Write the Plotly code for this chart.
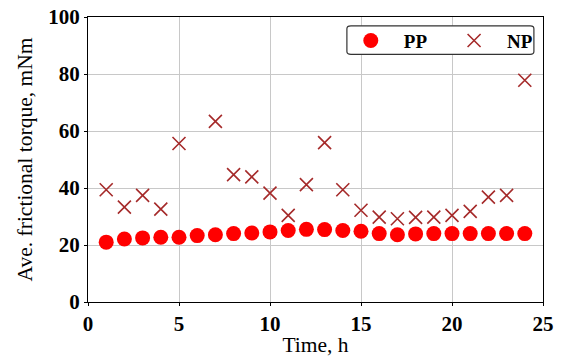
import plotly.graph_objects as go

hours = list(range(1, 25))
pp_values = [21.0, 22.1, 22.5, 22.7, 22.7, 23.3, 23.6, 24.0, 24.2, 24.6, 25.1, 25.5,
             25.4, 25.1, 24.8, 24.0, 23.6, 23.9, 24.0, 24.0, 24.0, 24.0, 24.0, 24.0]
np_hours = [1, 2, 3, 4, 5, 7, 8, 9, 10, 11, 12, 13, 14, 15, 16, 17, 18, 19, 20, 21, 22, 23, 24]
np_values = [39.4, 33.3, 37.4, 32.6, 55.6, 63.4, 44.7, 43.9, 38.2, 30.4, 41.2, 55.9,
             39.4, 32.2, 29.8, 29.2, 29.7, 29.8, 30.4, 31.8, 36.8, 37.4, 77.8]
x_ticks = [0, 5, 10, 15, 20, 25]
y_ticks = [0, 20, 40, 60, 80, 100]

FONT = "Liberation Serif, Times New Roman, serif"

fig = go.Figure()
fig.add_trace(go.Scatter(x=hours, y=pp_values, mode="markers", name="<b>PP</b>",
                         legend="legend",
                         marker=dict(symbol="circle", size=15, color="#ff0000")))
fig.add_trace(go.Scatter(x=np_hours, y=np_values, mode="markers", name="<b>NP</b>",
                         legend="legend2",
                         marker=dict(symbol="x-thin", size=13, color="#a52a2a",
                                     line=dict(color="#a52a2a", width=1.6))))

axis_common = dict(showline=True, linecolor="black", linewidth=1.2, mirror=True,
                   ticks="outside", ticklen=3, tickcolor="black", automargin=False,
                   showgrid=True, gridcolor="#c8c8c8", gridwidth=1, zeroline=False,
                   tickfont=dict(family=FONT, size=21, color="black"),
                   title_font=dict(family=FONT, size=21.5, color="black"))

fig.update_xaxes(range=[0, 25], tickvals=x_ticks, ticktext=[f"<b>{t}</b>" for t in x_ticks],
                 title_text="Time, h", title_standoff=1, **axis_common)
fig.update_yaxes(range=[0, 100], tickvals=y_ticks, ticktext=[f"<b>{t}</b>" for t in y_ticks],
                 title_text="Ave. frictional torque, mNm", title_standoff=9, **axis_common)

fig.add_shape(type="path", xref="paper", yref="paper",
              path="M 0.578,0.969 L 0.972,0.969 Q 0.98,0.969 0.98,0.959 L 0.98,0.879 Q 0.98,0.869 0.972,0.869 L 0.578,0.869 Q 0.569,0.869 0.569,0.879 L 0.569,0.959 Q 0.569,0.969 0.578,0.969 Z",
              line=dict(color="#333333", width=1.2), fillcolor="white", layer="above")

leg_common = dict(orientation="h", yanchor="middle", y=0.917, xanchor="left",
                  bgcolor="rgba(0,0,0,0)", borderwidth=0, itemwidth=56,
                  font=dict(family=FONT, size=19, color="black"))

fig.update_layout(
    width=563, height=358,
    margin=dict(l=88, r=20, t=17, b=56),
    paper_bgcolor="white", plot_bgcolor="white",
    showlegend=True,
    legend=dict(x=0.549, **leg_common),
    legend2=dict(x=0.776, **leg_common),
)

fig.write_html("out.html")
